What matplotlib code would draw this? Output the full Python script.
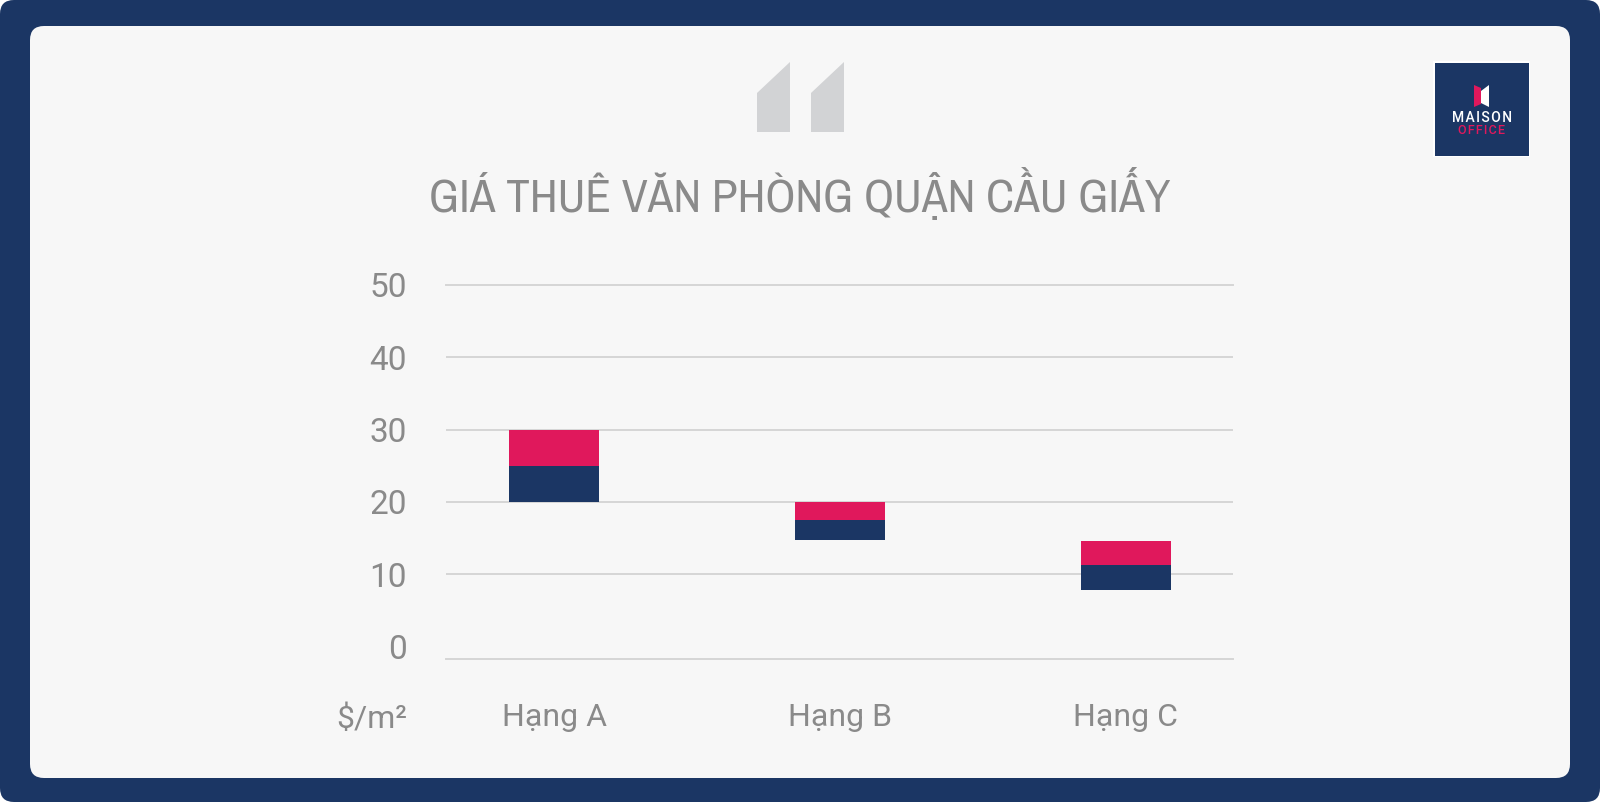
import matplotlib
matplotlib.use("Agg")
import matplotlib.pyplot as plt
from matplotlib import font_manager as fm
from matplotlib.patches import FancyBboxPatch, Polygon, Rectangle

categories = ["Hạng A", "Hạng B", "Hạng C"]
range_start = [20.0, 14.7, 7.8]
lower_part = [5.0, 2.8, 3.5]
upper_part = [5.0, 2.5, 3.3]
y_ticks = [0, 10, 20, 30, 40, 50]
title = "GIÁ THUÊ VĂN PHÒNG QUẬN CẦU GIẤY"
unit_label = "$/m²"

NAVY = "#1b3664"
RED = "#e0185c"
PANEL = "#f7f7f7"
GREY = "#8a8a8a"
GRID = "#d6d6d6"
W, H = 1600, 802

names = {f.name for f in fm.fontManager.ttflist}
condensed = sorted(n for n in names if "Condensed" in n or "Narrow" in n)
title_font = condensed[0] if condensed else "Roboto"
body_font = "Roboto"

fig = plt.figure(figsize=(W / 100, H / 100), dpi=100, facecolor="white")

bg = fig.add_axes([0, 0, 1, 1], zorder=0)
bg.set_xlim(0, W)
bg.set_ylim(H, 0)
bg.axis("off")
bg.add_patch(FancyBboxPatch((14, 14), W - 28, H - 28, boxstyle="round,pad=14,rounding_size=14",
                            fc=NAVY, ec="none"))
bg.add_patch(FancyBboxPatch((44, 40), 1512, 724, boxstyle="round,pad=14,rounding_size=14",
                            fc=PANEL, ec="none"))
for x0 in (757, 811):
    bg.add_patch(Polygon([(x0, 132), (x0, 93), (x0 + 33, 62), (x0 + 33, 132)],
                         closed=True, fc="#d2d3d5", ec="none"))
bg.add_patch(Rectangle((1433, 61), 97, 96, fc="white", ec="none"))
bg.add_patch(Rectangle((1434.5, 62.5), 94, 93, fc=NAVY, ec="none"))
bg.add_patch(Polygon([(1474, 85), (1481, 88), (1481, 104), (1474, 107)], closed=True, fc=RED, ec="none"))
bg.add_patch(Polygon([(1481, 91), (1489, 85), (1489, 107), (1481, 103)], closed=True, fc="white", ec="none"))
bg.text(1482, 122.5, "M\u200aA\u200aI\u200aS\u200aO\u200aN", color="white", fontsize=10, ha="center",
        va="baseline", family="Roboto", fontweight="medium")
bg.text(1482, 134, "O\u200aF\u200aF\u200aI\u200aC\u200aE", color=RED, fontsize=9, ha="center", va="baseline",
        family="Roboto", fontweight="medium")
title_text = bg.text(800, 211.5, title, color=GREY, fontsize=33, ha="center", va="baseline",
                     family=title_font, fontweight="light")
fig.canvas.draw()
title_text.set_fontsize(33 * 745 / title_text.get_window_extent().width)
bg.text(407, 728, unit_label, color=GREY, fontsize=23, ha="right", va="baseline", family=body_font)

ax = fig.add_axes([446 / W, 1 - 658.7 / H, (1232.5 - 446) / W, (658.7 - 285) / H], zorder=1)
ax.patch.set_alpha(0)
xs = list(range(len(categories)))
ax.bar(xs, lower_part, bottom=range_start, width=0.3125, color=NAVY, zorder=3)
tops = [s + l for s, l in zip(range_start, lower_part)]
ax.bar(xs, upper_part, bottom=tops, width=0.3125, color=RED, zorder=3)
ax.set_xlim(-0.378, 2.373)
ax.set_ylim(-1.72, 50)
ax.set_xticks(xs, categories)
ax.set_yticks(y_ticks, [str(v) for v in y_ticks])
ax.grid(axis="y", color=GRID, lw=1.4, zorder=1)
ax.yaxis.get_gridlines()[0].set_visible(False)
ax.yaxis.get_gridlines()[-1].set_clip_on(False)
for s in ("top", "left", "right"):
    ax.spines[s].set_visible(False)
ax.spines["bottom"].set_color(GRID)
ax.spines["bottom"].set_linewidth(1.4)
ax.tick_params(axis="both", length=0, labelcolor=GREY)
ax.tick_params(axis="y", labelsize=24, pad=28)
ax.tick_params(axis="x", labelsize=23, pad=32)
for t in ax.get_xticklabels() + ax.get_yticklabels():
    t.set_family(body_font)

fig.savefig("out.png", dpi=100, facecolor="white")
